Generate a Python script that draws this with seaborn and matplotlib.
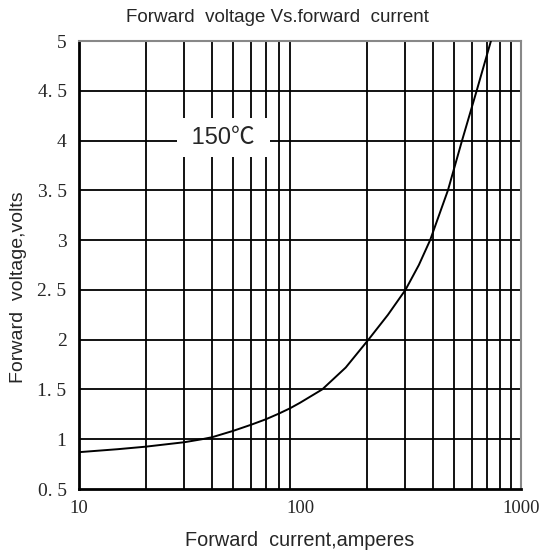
import matplotlib
matplotlib.use('Agg')
import matplotlib.pyplot as plt
import pandas as pd
import seaborn as sns

# Data
current = [10, 15, 20, 30, 36, 40, 50, 60, 70, 80, 90, 100, 126, 161, 204, 250,
           300, 345, 388, 467, 541, 630, 731]
voltage = [0.87, 0.9, 0.925, 0.97, 1.0, 1.02, 1.085, 1.145, 1.2, 1.256, 1.31,
           1.366, 1.5, 1.72, 2.0, 2.25, 2.5, 2.75, 3.0, 3.5, 4.0, 4.5, 5.0]
y_ticks = [0.5, 1, 1.5, 2, 2.5, 3, 3.5, 4, 4.5, 5]
y_tick_labels = ['0. 5', '1', '1. 5', '2', '2. 5', '3', '3. 5', '4', '4. 5', '5']
x_ticks = [10, 100, 1000]
x_tick_labels = ['10', '100', '1000']
x_grid = [20, 30, 40, 50, 60, 70, 80, 90, 200, 300, 400, 500, 600, 700, 800, 900]

sns.set_style('white')
plt.rcParams['font.family'] = ['Liberation Sans', 'Noto Sans CJK SC']

df = pd.DataFrame({'current': current, 'voltage': voltage})

fig = plt.figure(figsize=(5.45, 5.59), dpi=100)
ax = fig.add_axes([79 / 545, 1 - 489 / 559, 442 / 545, 448 / 559])
ax.set_xscale('log')
ax.set_xlim(10, 1000)
ax.set_ylim(0.5, 5)

# Grid lines
for xv in x_grid:
    ax.axvline(xv, color='black', lw=1.3, zorder=1)
for yv in y_ticks[1:-1]:
    ax.axhline(yv, color='black', lw=1.3, zorder=1)

sns.lineplot(data=df, x='current', y='voltage', ax=ax, color='black', lw=1.4,
             zorder=3)

# Temperature label
ax.text(45, 4.03, ' 150\u2103 ', ha='center', va='center', fontsize=17,
        family=['Liberation Sans', 'Noto Sans CJK SC'], zorder=4,
        bbox=dict(facecolor='white', edgecolor='none', pad=6))

ax.set_xticks(x_ticks)
ax.set_xticklabels(x_tick_labels, family='Liberation Serif', fontsize=13.5)
ax.minorticks_off()
ax.set_yticks(y_ticks)
ax.set_yticklabels(y_tick_labels, family='Liberation Serif', fontsize=14)
ax.tick_params(axis='y', length=0, pad=9)
ax.tick_params(axis='x', length=0, pad=8)

for side in ['left', 'bottom']:
    ax.spines[side].set_color('black')
    ax.spines[side].set_linewidth(2)
for side in ['top', 'right']:
    ax.spines[side].set_color('#888888')
    ax.spines[side].set_linewidth(1.5)

ax.set_title('Forward  voltage Vs.forward  current', fontsize=13.5, x=0.449,
             pad=14)
ax.set_xlabel('Forward  current,amperes', fontsize=14.3, labelpad=10)
ax.set_ylabel('Forward  voltage,volts', fontsize=14)
ax.yaxis.set_label_coords(-0.118, 0.451)

fig.savefig('out.png', dpi=100)
